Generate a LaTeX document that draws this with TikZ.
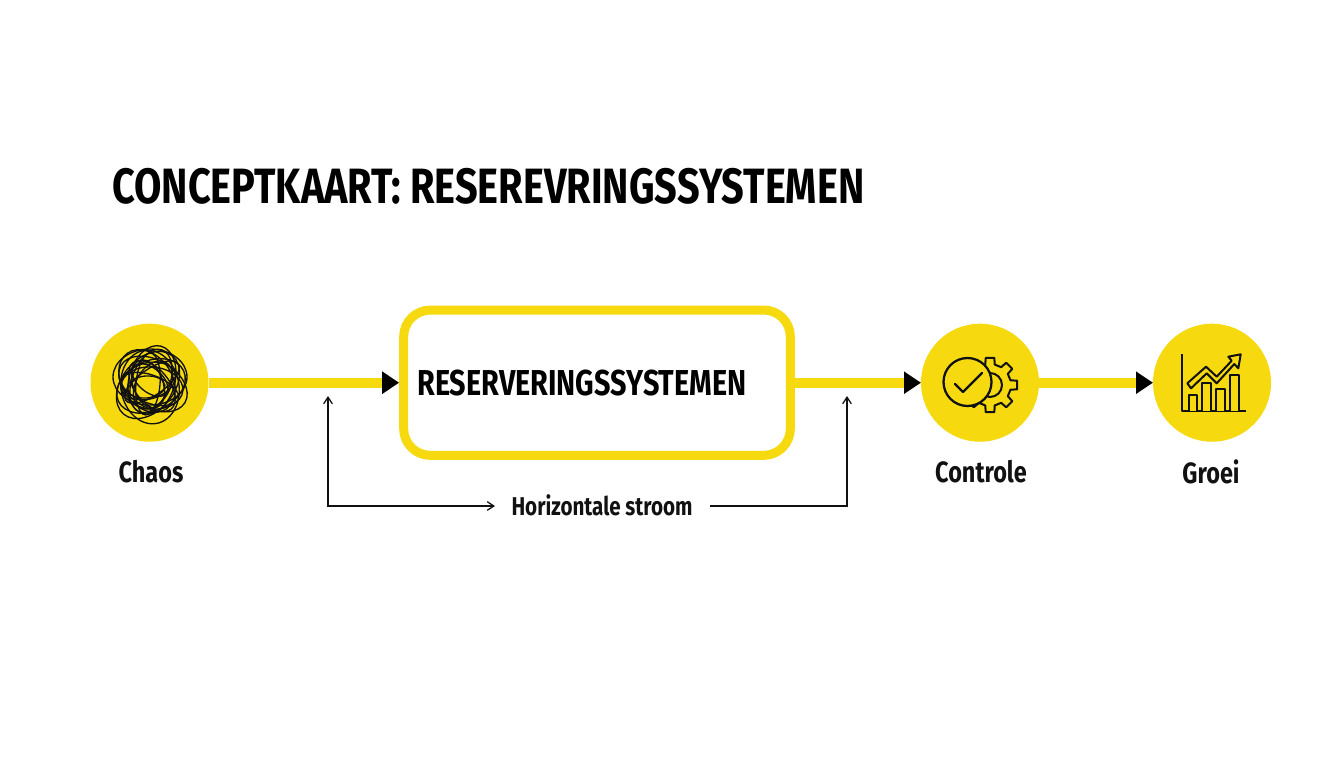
\documentclass[tikz,border=0pt]{standalone}
\usepackage{fontspec}
\usetikzlibrary{arrows.meta}
\newfontfamily\condfont[FakeStretch=0.8]{Fira Sans}
\definecolor{ykl}{HTML}{F6DA0F}
\definecolor{ink}{HTML}{111111}
\tikzset{
  x=.75pt,y=-.75pt,
  hub/.style={circle,fill=ykl,minimum size=88.5pt,inner sep=0pt,outer sep=0pt},
  sysbox/.style={draw=ykl,line width=6.75pt,rounded corners=20pt,minimum width=290pt,minimum height=109pt,inner sep=0pt,fill=white},
  flow/.style={draw=ykl,line width=7.5pt,-{Triangle[fill=black,color=black,length=12.75pt,width=16pt]}},
  thin/.style={draw=ink,line width=.95pt,-{Straight Barb[length=5pt,width=6.5pt,color=ink]}},
  lab/.style={font=\condfont\bfseries\fontsize{22}{26}\selectfont,text=ink,inner sep=0pt},
  icon/.style={draw=ink,line width=1.5pt,line join=round,line cap=round},
  scrib/.style={draw=ink,line width=1pt},
}
\begin{document}
\begin{tikzpicture}
\useasboundingbox (0,0) rectangle (1344,768);
\fill[white] (0,0) rectangle (1344,768);
\node[anchor=west,font=\condfont\bfseries\fontsize{37.2}{42}\selectfont,text=black,inner sep=0pt] (title) at (112,186) {CONCEPTKAART: RESEREVRINGSSYSTEMEN};
\node[hub] (chaos) at (149.5,382.7) {};
\node[hub] (ctrl) at (980,382.7) {};
\node[hub] (groei) at (1212,382.7) {};
\node[sysbox] (sys) at (597,382.7) {};
\node[anchor=west,font=\condfont\bfseries\fontsize{27}{32}\selectfont,text=black,inner sep=0pt] (systext) at (417,383) {RESERVERINGSSYSTEMEN};
\draw[flow] (chaos.east) -- (chaos.east -| sys.west);
\draw[flow] (sys.east |- ctrl.west) -- (ctrl.west);
\draw[flow] (ctrl.east) -- (groei.west);
\node[lab] (lchaos) at (151,472) {Chaos};
\node[lab] (lctrl) at (981,472) {Controle};
\node[lab] (lgroei) at (1211,472) {Groei};
\node[lab,font=\condfont\bfseries\fontsize{19.3}{23}\selectfont] (hs) at (602,505) {Horizontale stroom};
\coordinate (la) at (328,396);
\coordinate (lb) at (328,506);
\coordinate (lc) at (495,506);
\coordinate (ra) at (847,396);
\coordinate (rb) at (847,506);
\coordinate (rc) at (710,506);
\draw[thin,{Straight Barb[length=5pt,width=6.5pt,color=ink]}-{Straight Barb[length=5pt,width=6.5pt,color=ink]}] (la) -- (lb) -- (lc);
\draw[thin] (rc) -- (rb) -- (ra);
% chaos scribble
\begin{scope}[shift={(150,383)}]
\foreach \a/\rx/\ry/\dx/\dy in {0/37/28/0/-6,25/36/25/1/3,50/38/26/-2/2,75/35/23/2/-3,100/37/29/0/4,125/34/25/-3/-2,150/37/24/3/1,175/31/21/2/5,15/28/18/-2/-2,60/26/17/3/2,110/25/15/-2/1,140/21/12/0/-3,35/32/13/2/-1,85/31/12/-2/1,160/30/14/0/6,5/19/11/-4/4,70/33/19/1/-2,130/30/17/2/3}{
  \draw[scrib] (\dx,\dy) ellipse [x radius=\rx,y radius=\ry,rotate=\a];
}
\end{scope}
% gear and check
\begin{scope}[shift={(990,385)}]
\draw[icon] (-13:21)
  \foreach \a in {0,45,...,315}{
    -- (\a-13:21) -- (\a-9:27.5) -- (\a+9:27.5) -- (\a+13:21) -- (\a+32:21)
  } -- cycle;
\draw[icon] (0,0) circle (12);
\end{scope}
\draw[icon,fill=ykl,line width=1.7pt] (967.5,382) circle (24);
\draw[icon,line width=1.7pt] (955,384) -- (963,392) -- (982,373);
% chart
\draw[icon,line cap=butt] (1181.7,354) -- (1181.7,411) -- (1246,411);
\foreach \xa/\xb/\t in {1189/1197/395,1202/1211/383,1216/1225/389,1230/1238.5/375}{
  \draw[icon,fill=ykl] (\xa,411) -- (\xa,\t) -- (\xb,\t) -- (\xb,411);
}
\draw[icon,fill=ykl] (1187.3,383.3) -- (1206,366.7) -- (1216.7,376.7) -- (1231.7,360.7) -- (1228.3,356.7) -- (1240.7,354.3) -- (1238.3,368.3) -- (1234.3,364) -- (1216.7,383.3) -- (1206.7,373.3) -- (1191,388.3) -- cycle;
\end{tikzpicture}
\end{document}
